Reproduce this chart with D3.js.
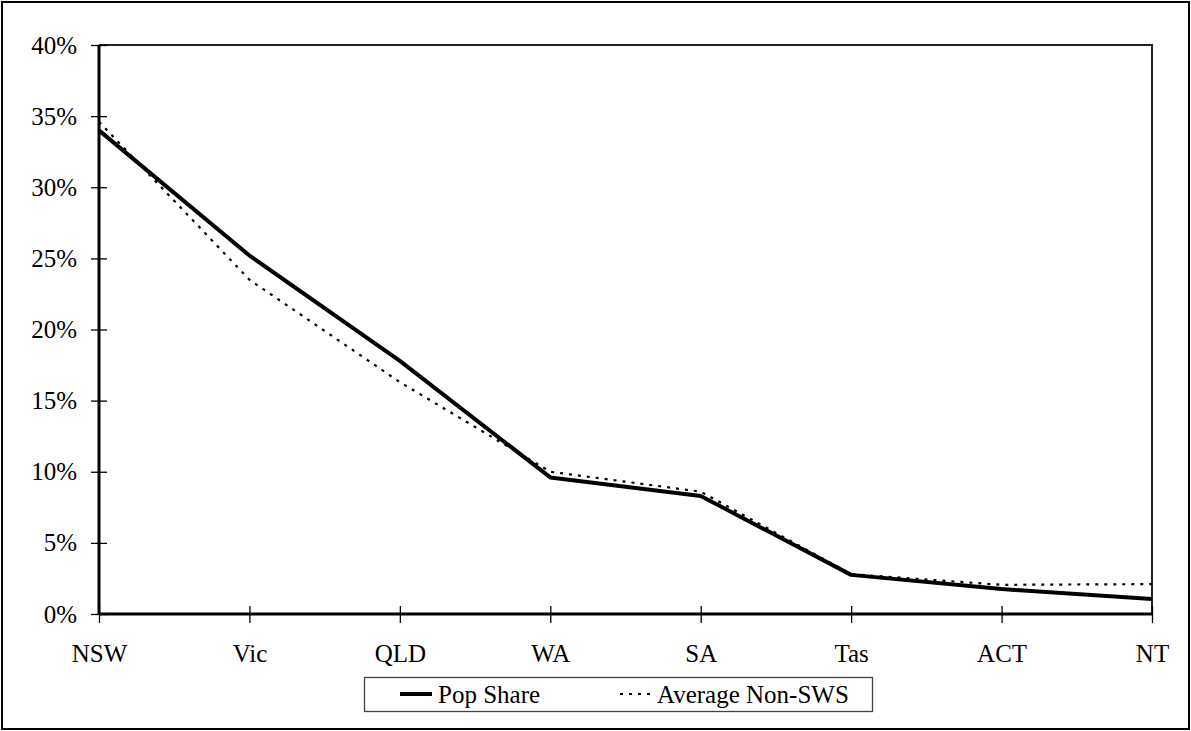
<!DOCTYPE html>
<html>
<head>
<meta charset="utf-8">
<script src="https://cdn.jsdelivr.net/npm/d3@7"></script>
<style>
  body { margin: 0; background: #fff; }
  svg { display: block; font-family: "Liberation Serif", "Times New Roman", serif; }
</style>
</head>
<body>
<div id="chart"></div>
<script>
// data
const states = ["NSW", "Vic", "QLD", "WA", "SA", "Tas", "ACT", "NT"];
const popShare = [34.0, 25.2, 17.8, 9.6, 8.3, 2.75, 1.75, 1.05];
const avgNonSWS = [34.6, 23.5, 16.3, 10.0, 8.6, 2.8, 2.05, 2.1];
const yTicks = [0, 5, 10, 15, 20, 25, 30, 35, 40];

const width = 1191, height = 731;
const plotLeft = 99, plotRight = 1152, plotTop = 45, plotBottom = 614;

const svg = d3.select("#chart").append("svg")
  .attr("width", width).attr("height", height);

// outer frame
svg.append("rect")
  .attr("x", 2).attr("y", 2).attr("width", width - 4).attr("height", height - 4)
  .attr("fill", "none").attr("stroke", "#000").attr("stroke-width", 2);

const x = d3.scalePoint().domain(states).range([plotLeft, plotRight]);
const y = d3.scaleLinear().domain([0, 40]).range([plotBottom, plotTop]);

// plot frame (top and right)
svg.append("path")
  .attr("d", `M${plotLeft},${plotTop}H${plotRight}V${plotBottom}`)
  .attr("fill", "none").attr("stroke", "#222").attr("stroke-width", 2);

// y axis
const yAxis = svg.append("g")
  .attr("transform", `translate(${plotLeft},0)`)
  .call(d3.axisLeft(y).tickValues(yTicks).tickSize(8).tickPadding(14).tickFormat(d => d + "%"));
yAxis.selectAll(".tick line").attr("x2", -8).attr("x1", 8).attr("stroke", "#000").attr("stroke-width", 1.3);
yAxis.select(".domain").attr("stroke-width", 3).attr("d", `M0,${plotTop}V${plotBottom}`);
yAxis.selectAll("text").style("font-size", "25px").style("font-family", "Liberation Serif").attr("fill", "#000");

// x axis
const xAxis = svg.append("g")
  .attr("transform", `translate(0,${plotBottom})`)
  .call(d3.axisBottom(x).tickSize(8).tickPadding(22));
xAxis.selectAll(".tick line").attr("y1", -8).attr("y2", 9).attr("stroke", "#000").attr("stroke-width", 1.3);
xAxis.select(".domain").attr("stroke-width", 3).attr("d", `M${plotLeft},0H${plotRight}`);
xAxis.selectAll("text").style("font-size", "25px").style("font-family", "Liberation Serif").attr("fill", "#000");

const line = d3.line()
  .x((d, i) => x(states[i]))
  .y(d => y(d));

svg.append("path")
  .datum(avgNonSWS)
  .attr("fill", "none")
  .attr("stroke", "#000")
  .attr("stroke-width", 2.2)
  .attr("stroke-dasharray", "3,6")
  .attr("d", line);

svg.append("path")
  .datum(popShare)
  .attr("fill", "none")
  .attr("stroke", "#000")
  .attr("stroke-width", 4)
  .attr("stroke-linejoin", "round")
  .attr("d", line);

// legend
const legend = svg.append("g");
legend.append("rect")
  .attr("x", 364.5).attr("y", 677.5).attr("width", 508).attr("height", 34)
  .attr("fill", "#fff").attr("stroke", "#444").attr("stroke-width", 1.3);
legend.append("line")
  .attr("x1", 400).attr("x2", 432).attr("y1", 694).attr("y2", 694)
  .attr("stroke", "#000").attr("stroke-width", 4);
legend.append("text")
  .attr("x", 438).attr("y", 703)
  .style("font-size", "25px").text("Pop Share");
legend.append("line")
  .attr("x1", 620).attr("x2", 650).attr("y1", 694).attr("y2", 694)
  .attr("stroke", "#000").attr("stroke-width", 2).attr("stroke-dasharray", "3,6");
legend.append("text")
  .attr("x", 657).attr("y", 703)
  .style("font-size", "25px").text("Average Non-SWS");
</script>
</body>
</html>
